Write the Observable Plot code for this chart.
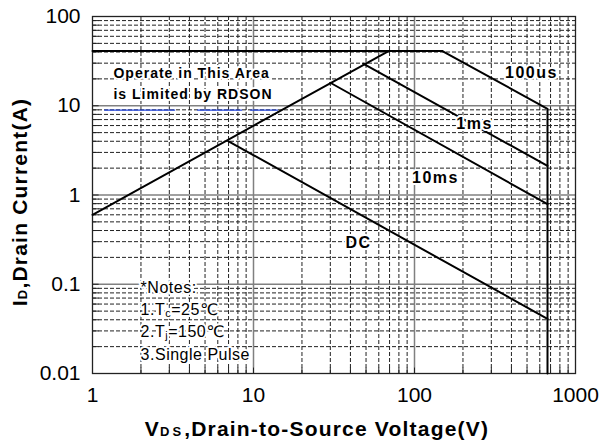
<!DOCTYPE html>
<html>
<head>
<meta charset="utf-8">
<script src="https://cdn.jsdelivr.net/npm/d3@7"></script>
<script src="https://cdn.jsdelivr.net/npm/@observablehq/plot@0.6"></script>
<style>
  html, body { margin: 0; padding: 0; background: #fff; }
  #chart svg { display: block; }
</style>
</head>
<body>
<div id="chart"></div>
<script>
// ---- Data ----
// Tick labels
const xTicks = [1, 10, 100, 1000];
const yTicks = [0.01, 0.1, 1, 10, 100];
const xMajorGrid = [10, 100];
const yMajorGrid = [0.1, 1, 10];
const xMinorGrid = [2,3,4,5,6,7,8,9,20,30,40,50,60,70,80,90,200,300,400,500,600,700,800,900];
const yMinorGrid = [0.02,0.03,0.04,0.05,0.06,0.07,0.08,0.09,0.2,0.3,0.4,0.5,0.6,0.7,0.8,0.9,2,3,4,5,6,7,8,9,20,30,40,50,60,70,80,90];

// Curves: V_DS (V) and I_D (A)
const rdsonV = [1, 69];
const rdsonI = [0.6, 41];
const limitV = [1, 149];
const limitI = [41, 41];
const us100V = [149, 670, 670];
const us100I = [41, 9.25, 0.01];
const ms1V = [48, 670];
const ms1I = [29.6, 2.12];
const ms10V = [30, 670];
const ms10I = [18.1, 0.79];
const dcV = [7, 670];
const dcI = [4.0, 0.041];

const curveLabels = ["100us", "1ms", "10ms", "DC"];
const areaNote = ["Operate in This Area", "is Limited by RDSON"];
const noteLines = ["*Notes:", "1.Tc=25℃", "2.Tj=150℃", "3.Single Pulse"];
const xTitle = "VDS,Drain-to-Source Voltage(V)";
const yTitle = "ID,Drain Current(A)";

const FONT = "'Liberation Sans', Arial, 'DejaVu Sans', sans-serif";
const lineStyle = {stroke: "#000", strokeWidth: 2};
const halo = {stroke: "white", strokeWidth: 4, paintOrder: "stroke", fill: "#000"};

const chart = Plot.plot({
  width: 605,
  height: 445,
  marginLeft: 92,
  marginRight: 30,
  marginTop: 16,
  marginBottom: 72,
  style: {fontFamily: FONT, background: "#fff", color: "#000"},
  x: {type: "log", domain: [1, 1000]},
  y: {type: "log", domain: [0.01, 100]},
  marks: [
    // minor dashed grid
    Plot.ruleX(xMinorGrid, {stroke: "#222", strokeWidth: 1, strokeDasharray: "4,2"}),
    Plot.ruleY(yMinorGrid, {stroke: "#222", strokeWidth: 1, strokeDasharray: "4,2"}),
    // major solid grid
    Plot.ruleX(xMajorGrid, {stroke: "#808080", strokeWidth: 1.5}),
    Plot.ruleY(yMajorGrid, {stroke: "#808080", strokeWidth: 1.5}),
    // inward axis ticks
    Plot.ruleX(xMinorGrid.concat(xMajorGrid), {y1: 0.01, y2: 0.0115, stroke: "#222"}),
    Plot.ruleY(yMinorGrid.concat(yMajorGrid), {x1: 1, x2: 1.1, stroke: "#222"}),
    Plot.frame({stroke: "#222", strokeWidth: 1.3}),
    // blue dashed underline
    Plot.ruleY([8.95], {x1: 1.19, x2: 14.3, stroke: "#2244dd", strokeWidth: 1.3, strokeDasharray: "71,22,45,8,28"}),
    // curves
    Plot.line(limitV, {x: limitV, y: limitI, ...lineStyle}),
    Plot.line(rdsonV, {x: rdsonV, y: rdsonI, ...lineStyle}),
    Plot.line(us100V, {x: us100V, y: us100I, ...lineStyle}),
    Plot.line(ms1V, {x: ms1V, y: ms1I, ...lineStyle}),
    Plot.line(ms10V, {x: ms10V, y: ms10I, ...lineStyle}),
    Plot.line(dcV, {x: dcV, y: dcI, ...lineStyle}),
    // axes
    Plot.axisX({ticks: xTicks, tickSize: 0, tickPadding: 14, fontSize: 21, label: null, tickFormat: d => String(d)}),
    Plot.axisY({ticks: yTicks, tickSize: 0, tickPadding: 12, fontSize: 21, label: null, tickFormat: d => String(d)}),
    // curve labels
    Plot.text([curveLabels[0]], {x: 533, y: 20.2, text: d => d, fontSize: 16, fontWeight: "bold", lineAnchor: "bottom", ...halo}),
    Plot.text([curveLabels[1]], {x: 236, y: 5.56, text: d => d, fontSize: 16, fontWeight: "bold", lineAnchor: "bottom", ...halo}),
    Plot.text([curveLabels[2]], {x: 135, y: 1.38, text: d => d, fontSize: 16, fontWeight: "bold", lineAnchor: "bottom", ...halo}),
    Plot.text([curveLabels[3]], {x: 44.9, y: 0.252, text: d => d, fontSize: 16, fontWeight: "bold", lineAnchor: "bottom", ...halo}),
    // area note
    Plot.text([areaNote[0]], {x: 1.35, y: 20.2, text: d => d, fontSize: 14, fontWeight: "bold", textAnchor: "start", lineAnchor: "bottom", ...halo}),
    Plot.text([areaNote[1]], {x: 1.35, y: 11.75, text: d => d, fontSize: 14, fontWeight: "bold", textAnchor: "start", lineAnchor: "bottom", ...halo}),
    // notes
    Plot.text([noteLines.join("\n")], {x: 1.99, y: 0.12, text: d => d, fontSize: 16, textAnchor: "start", lineAnchor: "top", lineHeight: 1.39, ...halo}),
    // x-axis title
    Plot.text([xTitle], {frameAnchor: "bottom", dx: -17, dy: 62, text: d => d, fontSize: 21, fontWeight: "bold", textAnchor: "middle", lineAnchor: "bottom"})
  ]
});

document.getElementById("chart").appendChild(chart);

// letter spacing applied inline on the rendered text
const spacing = new Map([
  ...curveLabels.map(s => [s, "1.5px"]),
  ...areaNote.map(s => [s, "1px"]),
  [xTitle, "1.2px"]
]);
d3.select(chart).selectAll("text").each(function() {
  const s = this.textContent;
  if (spacing.has(s)) this.style.letterSpacing = spacing.get(s);
  if (s.startsWith("*Notes:")) this.style.letterSpacing = "0.5px";
});

// rotated y-axis title
d3.select(chart).append("g")
  .attr("aria-label", "y-axis title")
  .append("text")
  .attr("x", 0).attr("y", 0)
  .attr("transform", "translate(27,202) rotate(-90)")
  .attr("text-anchor", "middle")
  .attr("font-size", 21)
  .attr("font-weight", "bold")
  .attr("fill", "#000")
  .style("letter-spacing", "1.2px")
  .text(yTitle);

// subscripts rendered as real tspans
function rebuild(node, parts) {
  const sel = d3.select(node);
  sel.text(null);
  for (const p of parts) {
    const t = sel.append("tspan").text(p.t);
    if (p.size) t.attr("font-size", p.size);
    if (p.dy) t.attr("dy", p.dy);
    if (p.ls) t.style("letter-spacing", p.ls);
  }
}
d3.select(chart).selectAll("text, tspan").each(function() {
  if (this.children.length) return;
  const s = this.textContent;
  if (s === xTitle) rebuild(this, [{t: "V"}, {t: "DS", size: 13, ls: "3px"}, {t: ",Drain-to-Source Voltage(V)"}]);
  else if (s === yTitle) rebuild(this, [{t: "I"}, {t: "D", size: 13}, {t: ",Drain Current(A)"}]);
  else if (s === noteLines[1]) rebuild(this, [{t: "1.T"}, {t: "c", size: 11, dy: 2}, {t: "=25℃", dy: -2}]);
  else if (s === noteLines[2]) rebuild(this, [{t: "2.T"}, {t: "j", size: 11, dy: 2}, {t: "=150℃", dy: -2}]);
});
</script>
</body>
</html>
